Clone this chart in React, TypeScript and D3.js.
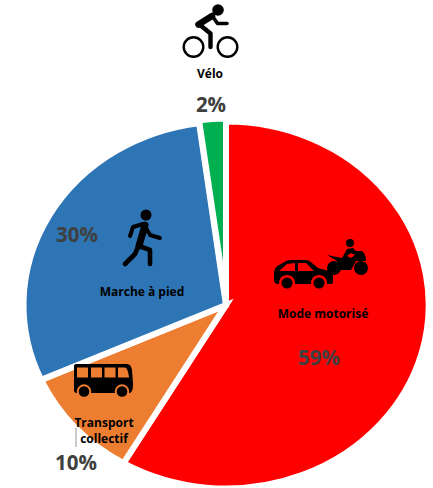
import React from "react";
import * as d3 from "d3";

const categories = ["Mode motorisé", "Transport collectif", "Marche à pied", "Vélo"];
const values = [59.3, 10, 30, 2.15];
const percentLabels = ["59%", "10%", "30%", "2%"];
const colors = ["#FF0000", "#ED7D31", "#2E75B6", "#00B050"];
const sliceNudgeY = [0, 0, 0, -3];

const W = 433, H = 488;
const cx = 226, cy = 305, rx = 202.5, ry = 183.5;
const FONT = "'Open Sans', 'Noto Sans', sans-serif";
const INK = "#000";
const PCT = "#404040";

function Poly({ d, w, c = INK }: { d: string; w: number; c?: string }) {
  return <path d={d} fill="none" stroke={c} strokeWidth={w} strokeLinecap="round" strokeLinejoin="round" />;
}

function Bike() {
  return (
    <g>
      <circle cx={193.5} cy={47} r={9.8} fill="none" stroke={INK} strokeWidth={2.4} />
      <circle cx={227.5} cy={47} r={9.8} fill="none" stroke={INK} strokeWidth={2.4} />
      <circle cx={218} cy={10} r={5.8} fill={INK} />
      <Poly d="M198.5,24.5 L212,16" w={6.5} />
      <Poly d="M213,17 L217.5,23.5 L227,23.5" w={3.6} />
      <Poly d="M200,25 L210.5,33.5 L210.5,47" w={4.4} />
    </g>
  );
}

function Walker() {
  return (
    <g>
      <circle cx={146} cy={215} r={5.5} fill={INK} />
      <Poly d="M145,225 L139,246" w={7} />
      <Poly d="M143,224 L133,227 L130,236" w={4} />
      <Poly d="M146,228 L150,235 L160,238" w={4} />
      <Poly d="M138,247 L135,254 L125,264" w={4.6} />
      <Poly d="M139,246 L150,250 L150,264" w={4.6} />
    </g>
  );
}

function Car() {
  const bg = colors[0];
  return (
    <g>
      <path d="M274,272 Q275,266 281,264 L286,261 Q288,260 291,260 L306,260 Q309,260 312,263 L318,268 L329,271 Q333,272 333,276 L333,282 Q333,284 330,284 L278,284 Q274,284 274,280 Z" fill={INK} />
      <path d="M279,271 L287,264 L295,263 L295,271 Z M298,263 L306,263 L314,271 L298,271 Z" fill={bg} />
      <circle cx={287} cy={283} r={8} fill={bg} />
      <circle cx={319} cy={283} r={8} fill={bg} />
      <circle cx={287} cy={283} r={5.5} fill={INK} />
      <circle cx={319} cy={283} r={5.5} fill={INK} />
    </g>
  );
}

function Moto() {
  const bg = colors[0];
  return (
    <g>
      <circle cx={350} cy={243} r={4} fill={INK} />
      <circle cx={334} cy={268} r={7} fill={INK} />
      <circle cx={361} cy={268} r={7} fill={INK} />
      <path d="M327,255 L342,258 L347,249 L353,248 L356,251 L362,251 Q366,254 366,261 L356,261 L351,270 L340,270 L337,261 Z" fill={INK} />
      <path d="M347,256 L351,253 L355,255 L351,258 Z" fill={bg} />
    </g>
  );
}

function Bus() {
  const bg = colors[1];
  const panes = [[77, 88], [91, 102], [104.5, 115.5]];
  return (
    <g>
      <path d="M76,364 L127,364 Q131,364 132,370 L133,384 Q133,392 130,393 L77,393 Q74,393 74,390 L74,366 Q74,364 76,364 Z" fill={INK} />
      {panes.map(([a, b], i) => (
        <rect key={i} x={a} y={367.5} width={b - a} height={10} fill={bg} />
      ))}
      <path d="M118,367.5 L125,367.5 Q128,368 129,377.5 L118,377.5 Z" fill={bg} />
      <circle cx={84} cy={391.5} r={7.2} fill={bg} />
      <circle cx={122} cy={391.5} r={7.2} fill={bg} />
      <circle cx={84} cy={391.5} r={5.3} fill={INK} />
      <circle cx={122} cy={391.5} r={5.3} fill={INK} />
    </g>
  );
}

function Label({ x, y, children, size = 12, fill = INK }: { x: number; y: number; children: React.ReactNode; size?: number; fill?: string }) {
  return (
    <text x={x} y={y} textAnchor="middle" dominantBaseline="central" fontFamily={FONT} fontWeight={700} fontSize={size} fill={fill}>
      {children}
    </text>
  );
}

export default function App() {
  const pie = d3.pie<number>().sort(null)(values);
  const arc = d3.arc<d3.PieArcDatum<number>>().innerRadius(0).outerRadius(1);
  return (
    <svg width={W} height={H} style={{ position: "absolute", left: 0, top: 0, display: "block" }}>
      {pie.map((p, i) => (
        <g key={categories[i]} transform={`translate(${cx},${cy + sliceNudgeY[i]}) scale(${rx},${ry})`}>
          <path d={arc(p) as string} fill={colors[i]} stroke="#fff" strokeWidth={6} vectorEffect="non-scaling-stroke" strokeLinejoin="miter" />
        </g>
      ))}
      <Bike />
      <Walker />
      <Car />
      <Moto />
      <Bus />
      <line x1={76} x2={76} y1={428} y2={447} stroke="#A6A6A6" strokeWidth={1.2} />
      <Label x={210} y={73}>{categories[3]}</Label>
      <Label x={211} y={104} size={20.5} fill={PCT}>{percentLabels[3]}</Label>
      <Label x={323} y={313}>{categories[0]}</Label>
      <Label x={319} y={357} size={20.5} fill={PCT}>{percentLabels[0]}</Label>
      <Label x={142} y={291}>{categories[2]}</Label>
      <Label x={77} y={234} size={20.5} fill={PCT}>{percentLabels[2]}</Label>
      <Label x={104} y={422}>Transport</Label>
      <Label x={104} y={438}>collectif</Label>
      <Label x={76} y={462} size={20.5} fill={PCT}>{percentLabels[1]}</Label>
    </svg>
  );
}
